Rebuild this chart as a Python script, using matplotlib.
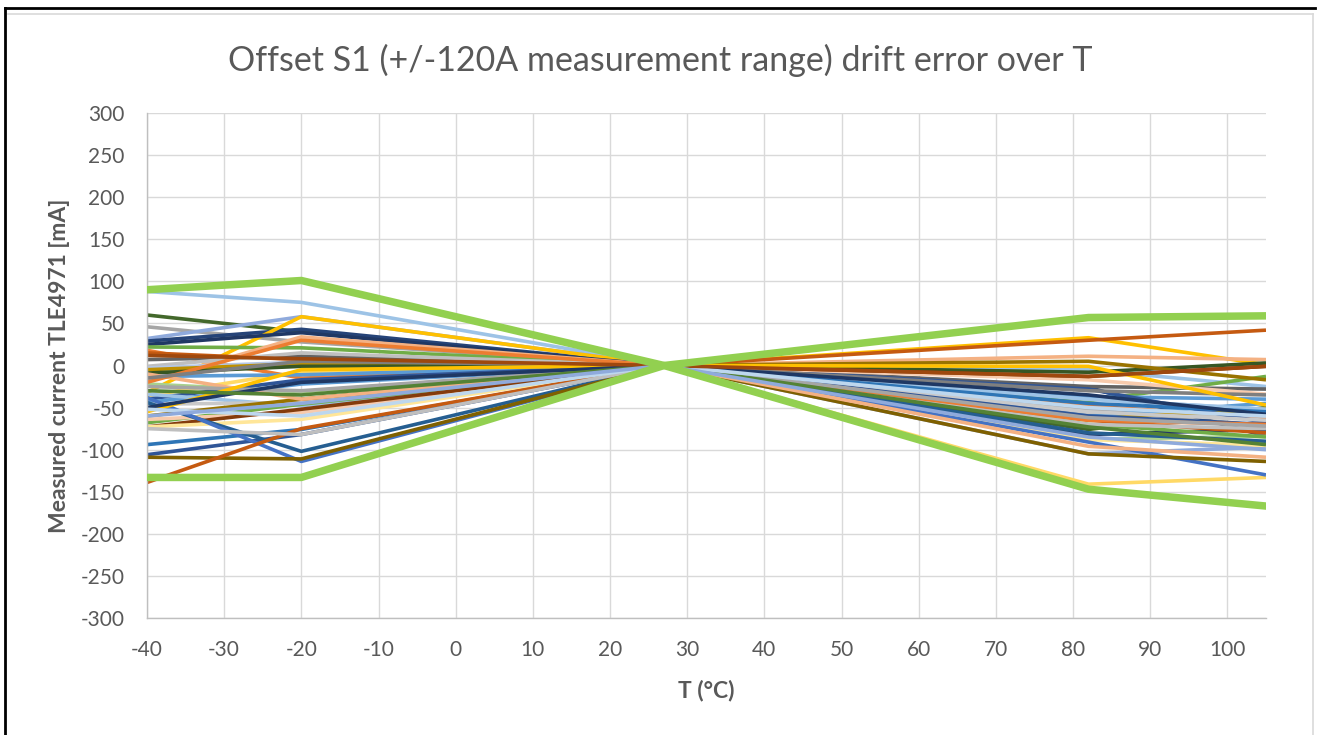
import matplotlib
matplotlib.use("Agg")
import matplotlib.pyplot as plt
from matplotlib.lines import Line2D

plt.rcParams['font.family'] = ['Lato', 'DejaVu Sans']
plt.rcParams['axes.unicode_minus'] = False

# Temperature points (°C)
temps = [-40, -20, 27, 82, 105]

# Individual device curves: offset drift (mA) at each temperature
colors = [
    '#9DC3E6', '#43682B', '#A5A5A5', '#8FAADC', '#264478', '#FFC000', '#203864',
    '#70AD47', '#ED7D31', '#F4B183', '#C55A11', '#636363', '#BFBFBF', '#B4C7E7',
    '#BF9000', '#375623', '#FFD966', '#5B9BD5', '#A9D18E', '#2F5597', '#5B9BD5',
    '#9DC3E6', '#C9C9C9', '#997300', '#70AD47', '#F8CBAD', '#843C0C', '#FFE699',
    '#2E75B6', '#2F5597', '#255E91', '#4472C4', '#7F6000', '#C55A11', '#BFBFBF',
    '#F4B183', '#ED7D31', '#A5A5A5', '#7F7F7F', '#FFC000', '#1F3864', '#548235',
    '#BDD7EE', '#9E480E', '#8FAADC',
]
values = [
    [88, 75, 0, -5, -25],
    [60, 40, 0, -76, -50],
    [46, 28, 0, -52, -72],
    [32, 58, 0, -105, -97],
    [29, 43, 0, -26, -84],
    [-32, 58, 0, 33, 1],
    [25, 39, 0, -82, -76],
    [22, 21, 0, -42, -13],
    [18, -15, 0, -48, -62],
    [-19, 34, 0, 11, 7],
    [15, 7, 0, 30, 42],
    [7, 11, 0, -25, -28],
    [-1, 15, 0, -58, -60],
    [-3, 4, 0, -40, -52],
    [-5, 2, 0, -62, -52],
    [-9, -1, 0, -8, 3],
    [-36, -7, 0, -141, -133],
    [-13, -11, 0, -37, -40],
    [-22, -31, 0, -88, -84],
    [-40, -17, 0, -28, -68],
    [-44, -22, 0, -60, -45],
    [-34, -48, 0, -40, -52],
    [-46, -44, 0, -55, -65],
    [-60, -40, 0, 5, -17],
    [-68, -46, 0, -70, -85],
    [-64, -56, 0, -17, -34],
    [-73, -52, 0, -13, -1],
    [-73, -64, 0, -88, -95],
    [-94, -76, 0, -45, -55],
    [-106, -82, 0, -60, -70],
    [-44, -102, 0, -80, -90],
    [-38, -114, 0, -91, -130],
    [-109, -111, 0, -105, -114],
    [-139, -75, 0, -65, -80],
    [-75, -82, 0, -70, -75],
    [-10, -40, 0, -96, -109],
    [-20, 30, 0, -65, -70],
    [-25, -30, 0, -62, -72],
    [-15, 5, 0, -30, -35],
    [-55, -5, 0, -1, -47],
    [-50, -20, 0, -35, -58],
    [-30, -35, 0, -73, -94],
    [-52, -60, 0, -50, -60],
    [12, 8, 0, -13, -1],
    [-60, -45, 0, -85, -100],
]

# Envelope limits
upper_limit = [90, 101, 0, 57, 59]
lower_limit = [-133, -133, 0, -147, -167]
limit_color = '#92D050'

title = "Offset S1 (+/-120A measurement range) drift error over T"
xlabel = "T (°C)"
ylabel = "Measured current TLE4971 [mA]"
xticks = list(range(-40, 101, 10))
yticks = list(range(-300, 301, 50))

fig = plt.figure(figsize=(13.29, 7.35), dpi=100)
ax = fig.add_axes([147 / 1329, 1 - 618 / 735, (1266 - 147) / 1329, (618 - 113) / 735])

for c, v in zip(colors, values):
    ax.plot(temps, v, color=c, lw=2.6, solid_joinstyle='round', solid_capstyle='butt', zorder=2)

ax.plot(temps, upper_limit, color=limit_color, lw=5.4, solid_joinstyle='round', zorder=3)
ax.plot(temps, lower_limit, color=limit_color, lw=5.4, solid_joinstyle='round', zorder=3)

ax.set_xlim(-40, 105)
ax.set_ylim(-300, 300)
ax.set_xticks(xticks)
ax.set_yticks(yticks)
ax.grid(True, color='#D9D9D9', lw=1.0, zorder=0)
ax.set_axisbelow(True)
for s in ['top', 'right']:
    ax.spines[s].set_visible(False)
for s in ['left', 'bottom']:
    ax.spines[s].set_color('#BFBFBF')
    ax.spines[s].set_linewidth(1.0)
ax.tick_params(length=0, labelsize=15, labelcolor='#595959')
ax.tick_params(axis='x', pad=16)
ax.tick_params(axis='y', pad=16)

fig.text(660 / 1329, 1 - 60 / 735, title, ha='center', va='center', fontsize=24.5, color='#595959')
ax.set_xlabel(xlabel, fontsize=16.5, fontweight='bold', color='#595959', labelpad=14)
ax.set_ylabel(ylabel, fontsize=16.5, fontweight='bold', color='#595959', labelpad=8)

# chart frame
fig.add_artist(Line2D([5 / 1329, 5 / 1329], [0, 1 - 8 / 735], transform=fig.transFigure, color='black', lw=2))
fig.add_artist(Line2D([5 / 1329, 1315 / 1329], [1 - 8 / 735, 1 - 8 / 735], transform=fig.transFigure, color='black', lw=2))
fig.add_artist(Line2D([1313 / 1329, 1313 / 1329], [0, 1 - 14 / 735], transform=fig.transFigure, color='#D9D9D9', lw=1.2))
fig.add_artist(Line2D([8 / 1329, 1313 / 1329], [1 - 14 / 735, 1 - 14 / 735], transform=fig.transFigure, color='#D9D9D9', lw=1.2))

fig.savefig('out.png', dpi=100)
